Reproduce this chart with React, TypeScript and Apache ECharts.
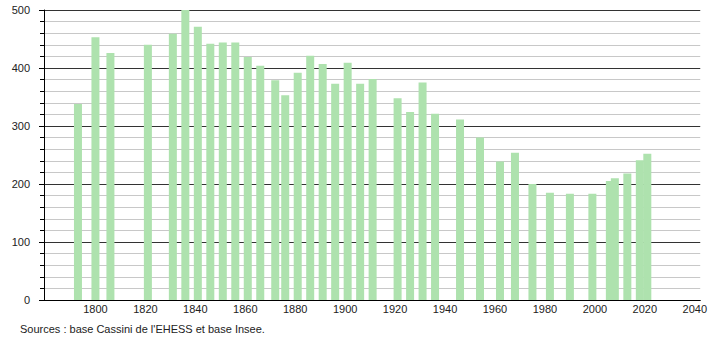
import React, { useEffect, useRef } from "react";
import * as echarts from "echarts";

const years = [1793, 1800, 1806, 1821, 1831, 1836, 1841, 1846, 1851, 1856, 1861, 1866, 1872, 1876, 1881, 1886, 1891, 1896, 1901, 1906, 1911, 1921, 1926, 1931, 1936, 1946, 1954, 1962, 1968, 1975, 1982, 1990, 1999, 2006, 2008, 2013, 2018, 2021];
const population = [338, 453, 426, 440, 459, 500, 471, 442, 444, 444, 419, 404, 379, 353, 392, 421, 407, 373, 409, 373, 381, 348, 324, 375, 321, 311, 280, 239, 254, 200, 185, 183, 183, 205, 210, 218, 241, 252];
const sourceText = "Sources : base Cassini de l'EHESS et base Insee.";

export default function App() {
  const ref = useRef<HTMLDivElement>(null);
  useEffect(() => {
    if (!ref.current) return;
    const chart = echarts.init(ref.current, null, { renderer: "svg" });
    const font = "'Liberation Sans', Arial, sans-serif";
    chart.setOption({
      animation: false,
      grid: { left: 44, right: 9, top: 10, bottom: 40, containLabel: false },
      xAxis: {
        type: "value",
        min: 1779.4,
        max: 2042.2,
        splitNumber: 13,
        axisLine: { show: true, lineStyle: { color: "#000", width: 1 } },
        axisTick: { show: false },
        splitLine: { show: false },
        axisLabel: {
          color: "#222",
          fontSize: 11,
          fontFamily: font,
          margin: 3,
          showMinLabel: false,
          showMaxLabel: false,
          formatter: (v: number) => (v % 20 === 0 && v > 1780 ? String(v) : ""),
        },
      },
      yAxis: {
        type: "value",
        min: 0,
        max: 500,
        interval: 100,
        axisLine: { show: true, lineStyle: { color: "#000", width: 1 } },
        axisTick: { show: true, length: 5, lineStyle: { color: "#000" } },
        minorTick: { show: true, splitNumber: 5, length: 4, lineStyle: { color: "#000" } },
        splitLine: { show: true, lineStyle: { color: "#333", width: 1 } },
        minorSplitLine: { show: true, lineStyle: { color: "#c8c8c8", width: 1 } },
        axisLabel: { color: "#222", fontSize: 11, fontFamily: font, margin: 14 },
      },
      series: [
        {
          type: "bar",
          barWidth: 8,
          data: years.map((y, i) => [y, population[i]]),
          itemStyle: { color: "#aee2ae" },
          z: 3,
        },
      ],
      graphic: [
        {
          type: "text",
          left: 20,
          top: 323,
          style: { text: sourceText, fontSize: 11, fontFamily: font, fill: "#222" },
        },
      ],
    });
    return () => chart.dispose();
  }, []);
  return <div ref={ref} style={{ width: 710, height: 340, position: "absolute", left: 0, top: 0 }} />;
}
